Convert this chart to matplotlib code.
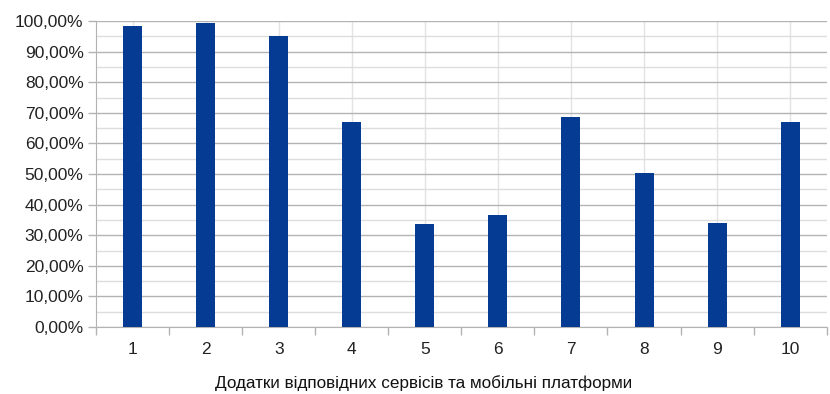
import matplotlib.pyplot as plt
from matplotlib.ticker import MultipleLocator, FuncFormatter, FixedLocator

plt.rcParams['font.family'] = ['Liberation Sans', 'DejaVu Sans']

# values (percent)
categories = ['1', '2', '3', '4', '5', '6', '7', '8', '9', '10']
values = [98.4, 99.2, 95.1, 66.9, 33.6, 36.6, 68.7, 50.2, 33.9, 67.1]
xlabel = 'Додатки відповідних сервісів та мобільні платформи'

fig = plt.figure(figsize=(8.3, 3.94), dpi=100)
ax = fig.add_axes([0.1157, 0.170, 0.8803, 0.7767])

x = list(range(len(categories)))
ax.bar(x, values, width=0.26, color='#063b94', zorder=3)

ax.set_xlim(-0.5, len(categories) - 0.5)
ax.set_ylim(0, 100)

# y axis: major every 10 %, minor every 5 %
ax.yaxis.set_major_locator(MultipleLocator(10))
ax.yaxis.set_minor_locator(MultipleLocator(5))
ax.yaxis.set_major_formatter(FuncFormatter(lambda v, p: f'{v:.2f}%'.replace('.', ',')))
ax.grid(axis='y', which='major', color='#b3b3b3', linewidth=1.0, zorder=0)
ax.grid(axis='y', which='minor', color='#dddddd', linewidth=1.0, zorder=0)

# x axis: labels at centres, tick marks at boundaries
ax.set_xticks(x)
ax.set_xticklabels(categories)
ax.xaxis.set_minor_locator(FixedLocator([i - 0.5 for i in range(len(categories) + 1)]))
ax.tick_params(axis='x', which='major', length=0, pad=11, labelsize=12.5, labelcolor='#222222')
ax.tick_params(axis='x', which='minor', length=6, color='#b3b3b3', width=1)
ax.tick_params(axis='y', which='major', length=6, color='#b3b3b3', width=1, labelsize=12.5,
               pad=3, labelcolor='#222222')
ax.tick_params(axis='y', which='minor', length=0)
ax.grid(axis='x', which='major', color='#e3e3e3', linewidth=1.0, zorder=0)

for side in ['top', 'right']:
    ax.spines[side].set_visible(False)
for side in ['left', 'bottom']:
    ax.spines[side].set_color('#b3b3b3')

fig.text(424 / 830, 1 - 383 / 394, xlabel, fontsize=12.3, color='#111111',
         ha='center', va='center')

fig.savefig('out.png', dpi=100)
